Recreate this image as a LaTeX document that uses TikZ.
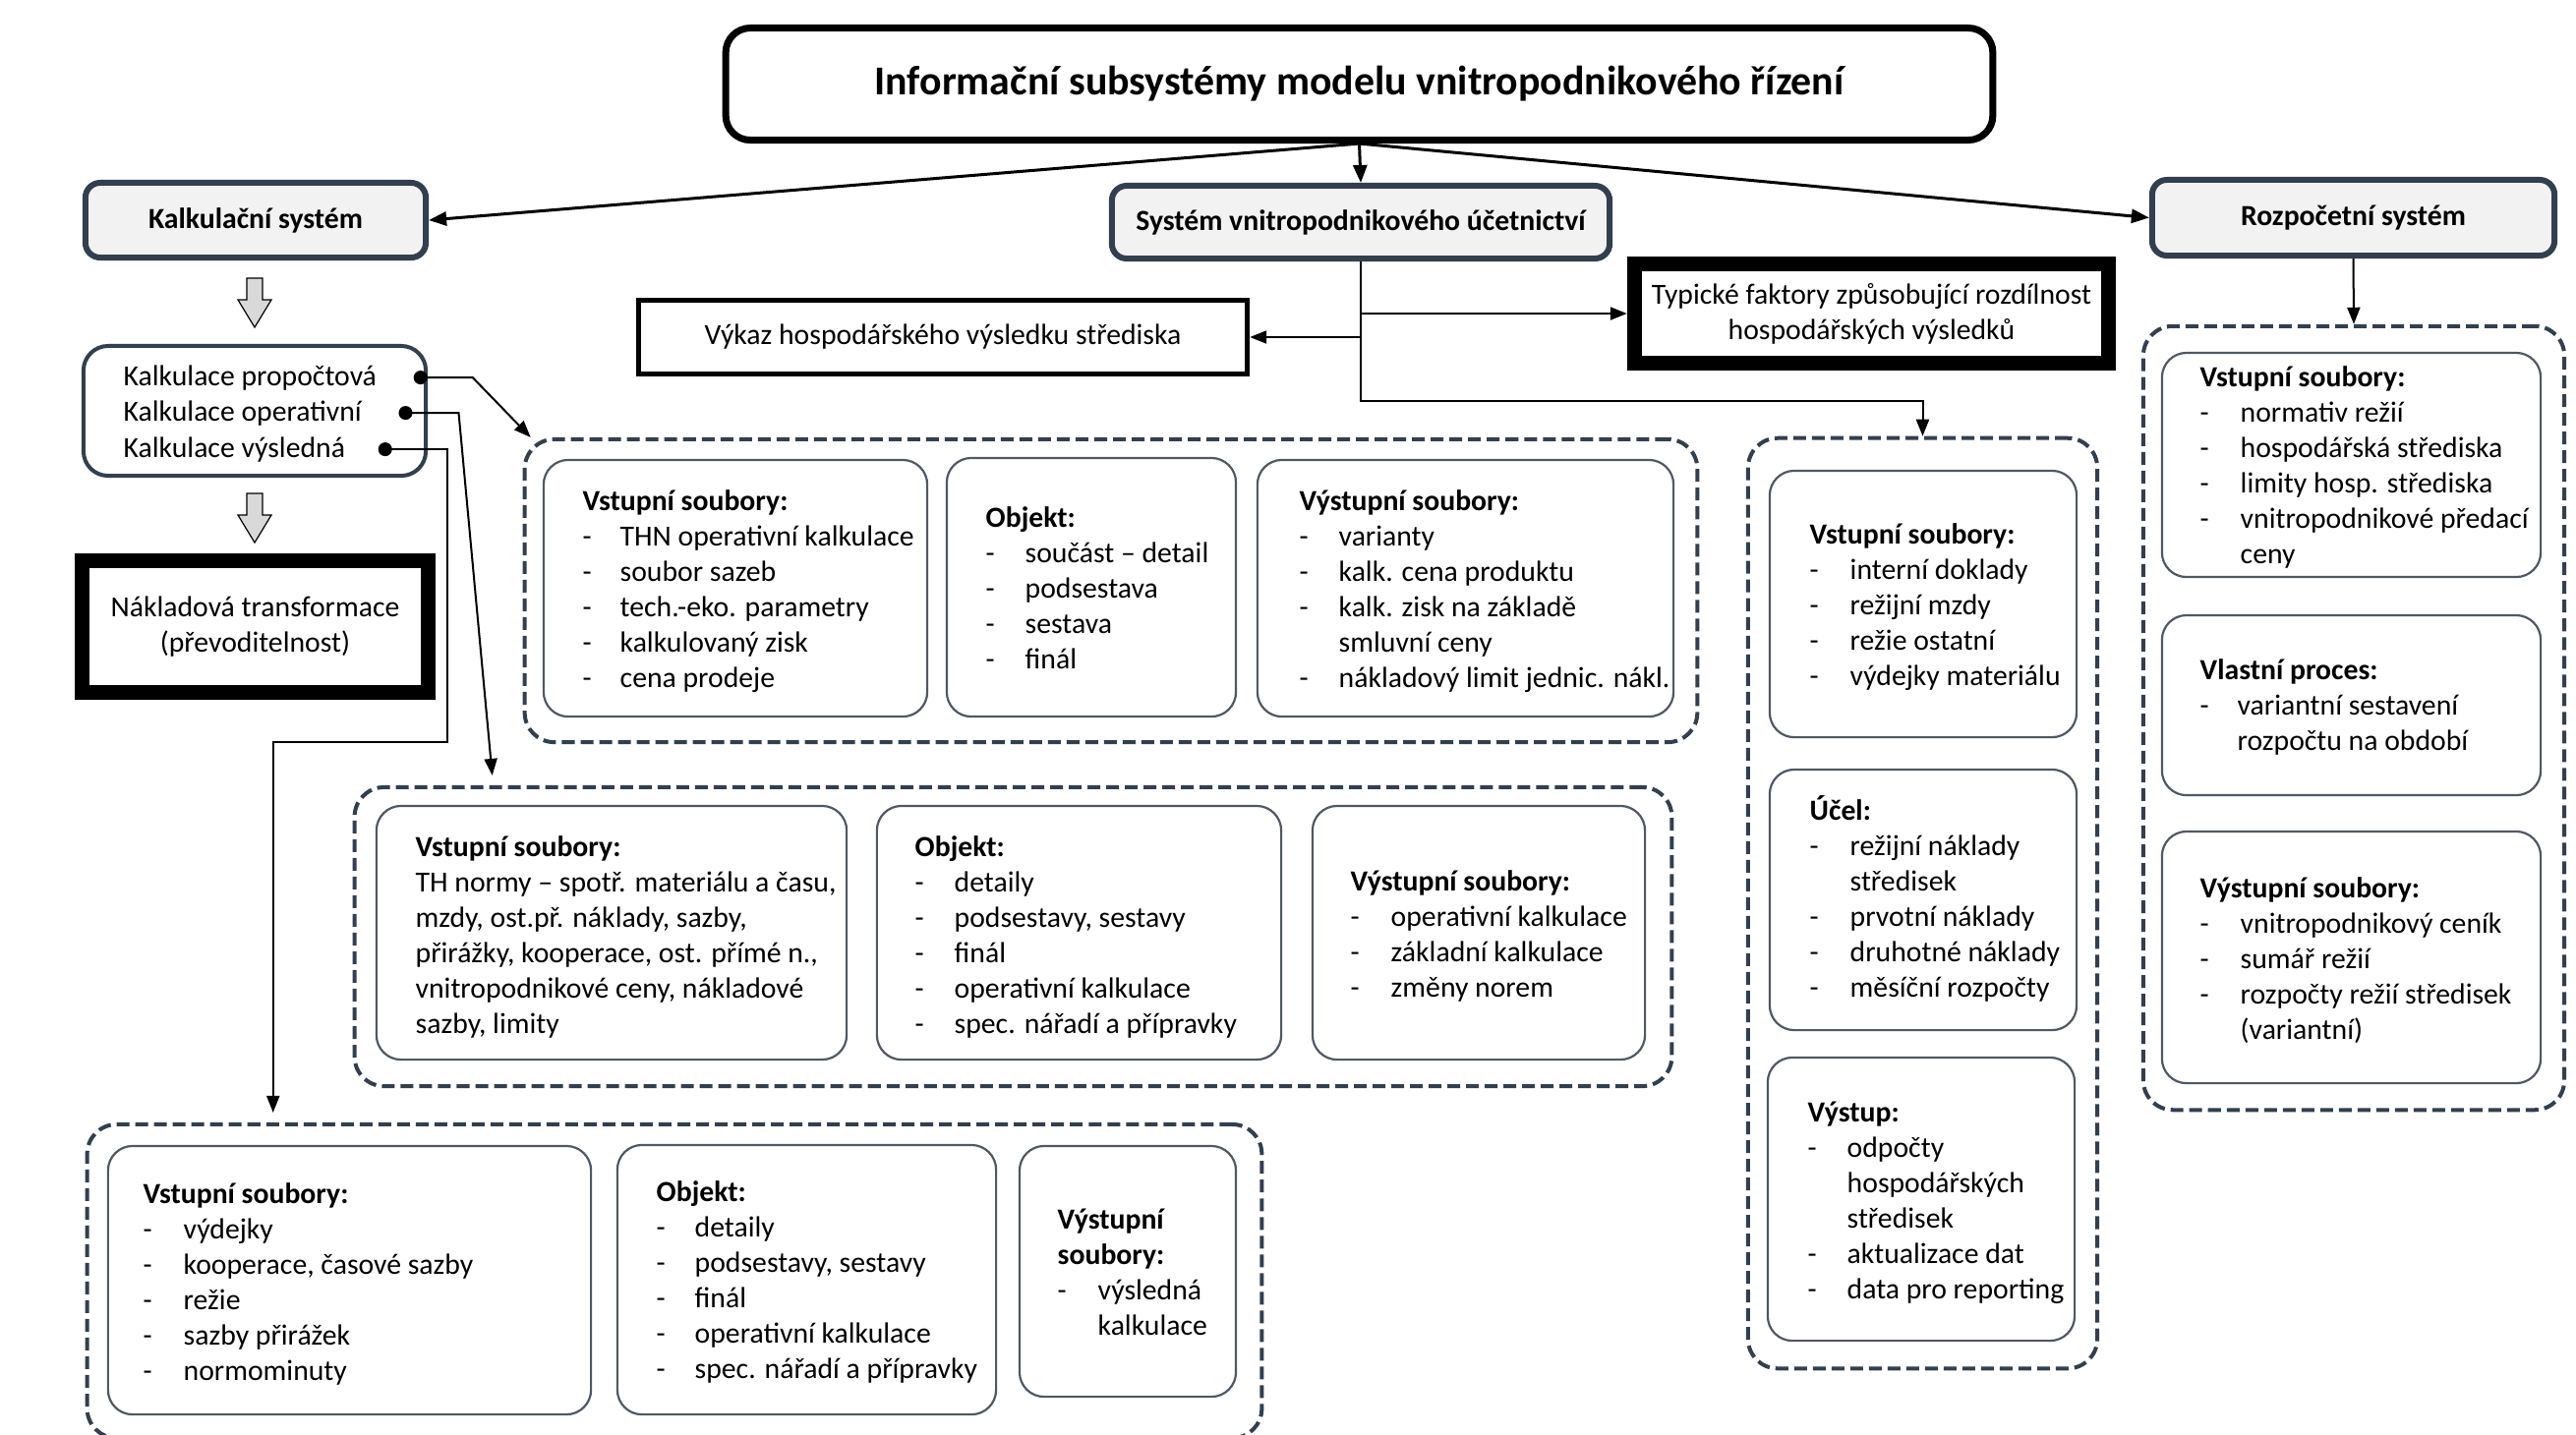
\documentclass[tikz,border=0pt]{standalone}
\usepackage{fontspec}
\setmainfont{Carlito}
\usetikzlibrary{arrows.meta}
\definecolor{slate}{RGB}{50,63,79}
\definecolor{hdrfill}{RGB}{242,242,242}
\definecolor{innerc}{RGB}{80,88,100}
\definecolor{blockfill}{RGB}{217,217,217}
\newcommand\bodyfont{\fontsize{8.45}{10.24}\selectfont}
\newcommand\hh[1]{\multicolumn{2}{@{}l@{}}{\textbf{#1}}}
\newcommand\blockarr[2]{\draw[fill=blockfill, line width=0.012cm] (#1-8,#2) -- (#1+8,#2) -- (#1+8,#2+22) -- (#1+17,#2+22) -- (#1,#2+50) -- (#1-17,#2+22) -- (#1-8,#2+22) -- cycle;}
\tikzset{
  ttl/.style={draw=black, line width=0.07cm, rounded corners=0.25cm, inner sep=0, font=\fontsize{11.9}{14}\selectfont\bfseries},
  hdr/.style={draw=slate, fill=hdrfill, line width=0.06cm, rounded corners=0.15cm, inner sep=0, font=\bodyfont\bfseries},
  kbox/.style={draw=slate, line width=0.04cm, rounded corners=0.25cm, inner sep=0},
  sqbox/.style={draw=black, inner sep=0, font=\bodyfont, align=center},
  dbox/.style={draw=slate, line width=0.04cm, dash pattern=on 0.13cm off 0.06cm, rounded corners=0.3cm, inner sep=0},
  ibox/.style={draw=innerc, line width=0.022cm, rounded corners=0.25cm, inner sep=0},
  txt/.style={anchor=base west, inner sep=0, font=\bodyfont},
  arr/.style={-{Triangle[length=0.17cm,width=0.13cm]}, line width=0.02cm},
  arrT/.style={-{Triangle[length=0.18cm,width=0.14cm]}, line width=0.03cm},
  dotarr/.style={{Circle[length=0.14cm]}-{Triangle[length=0.17cm,width=0.13cm]}, line width=0.02cm},
}
\begin{document}
\begin{tikzpicture}[x=0.01cm,y=-0.01cm]
\useasboundingbox (0,0) rectangle (2620,1459);

% top level
\node[ttl, minimum width=12.88cm, minimum height=1.14cm] (title) at (1382.5,85.5) {Informační subsystémy modelu vnitropodnikového řízení};
\node[hdr, minimum width=3.46cm, minimum height=0.76cm] (kalk) at (260,224) {Kalkulační systém};
\node[hdr, minimum width=5.06cm, minimum height=0.74cm] (sys) at (1384,226) {Systém vnitropodnikového účetnictví};
\node[hdr, minimum width=4.09cm, minimum height=0.77cm] (rozp) at (2393.5,221.5) {Rozpočetní systém};

% left column
\node[kbox, minimum width=3.48cm, minimum height=1.32cm] (kk) at (259,418) {};
\node[txt] (k1) at (125,392) {Kalkulace propočtová};
\node[txt] (k2) at (125,428) {Kalkulace operativní};
\node[txt] (k3) at (125,465) {Kalkulace výsledná};
\node[sqbox, line width=0.15cm, minimum width=3.52cm, minimum height=1.34cm] (nak) at (259.5,637.5) {Nákladová transformace\\(převoditelnost)};
\blockarr{259}{283}
\blockarr{259}{502}

% middle boxes
\node[sqbox, line width=0.05cm, minimum width=6.19cm, minimum height=0.75cm] (vyk) at (959,343) {Výkaz hospodářského výsledku střediska};
\node[sqbox, line width=0.15cm, minimum width=4.82cm, minimum height=1.01cm] (typ) at (1903.5,319) {Typické faktory způsobující rozdílnost\\hospodářských výsledků};

% dashed group 1
\node[dbox, minimum width=11.92cm, minimum height=3.08cm] (d1) at (1130,601) {};
\node[ibox, minimum width=3.90cm, minimum height=2.61cm] (d1a) at (748,598.5) {};
\node[ibox, minimum width=2.94cm, minimum height=2.63cm] (d1b) at (1110,597.5) {};
\node[ibox, minimum width=4.23cm, minimum height=2.61cm] (d1c) at (1490.5,598.5) {};
\node[txt] (t1a) at (592,519) {\begin{tabular}[t]{@{}p{0.38cm}@{}l@{}}\hh{Vstupní soubory:}\\ -&THN operativní kalkulace\\ -&soubor sazeb\\ -&tech.-eko. parametry\\ -&kalkulovaný zisk\\ -&cena prodeje\end{tabular}};
\node[txt] (t1b) at (1002,536) {\begin{tabular}[t]{@{}p{0.40cm}@{}l@{}}\hh{Objekt:}\\ -&součást – detail\\ -&podsestava\\ -&sestava\\ -&finál\end{tabular}};
\node[txt] (t1c) at (1321,519) {\begin{tabular}[t]{@{}p{0.40cm}@{}l@{}}\hh{Výstupní soubory:}\\ -&varianty\\ -&kalk. cena produktu\\ -&kalk. zisk na základě\\ &smluvní ceny\\ -&nákladový limit jednic. nákl.\end{tabular}};

% dashed group 2
\node[dbox, minimum width=13.39cm, minimum height=3.04cm] (d2) at (1030.5,953) {};
\node[ibox, minimum width=4.78cm, minimum height=2.58cm] (d2a) at (622,949) {};
\node[ibox, minimum width=4.11cm, minimum height=2.58cm] (d2b) at (1097.5,949) {};
\node[ibox, minimum width=3.38cm, minimum height=2.58cm] (d2c) at (1504,949) {};
\node[txt] (t2a) at (422,871) {\begin{tabular}[t]{@{}l@{}}\textbf{Vstupní soubory:}\\ TH normy – spotř. materiálu a času,\\ mzdy, ost.př. náklady, sazby,\\ přirážky, kooperace, ost. přímé n.,\\ vnitropodnikové ceny, nákladové\\ sazby, limity\end{tabular}};
\node[txt] (t2b) at (930,871) {\begin{tabular}[t]{@{}p{0.40cm}@{}l@{}}\hh{Objekt:}\\ -&detaily\\ -&podsestavy, sestavy\\ -&finál\\ -&operativní kalkulace\\ -&spec. nářadí a přípravky\end{tabular}};
\node[txt] (t2c) at (1373,906) {\begin{tabular}[t]{@{}p{0.41cm}@{}l@{}}\hh{Výstupní soubory:}\\ -&operativní kalkulace\\ -&základní kalkulace\\ -&změny norem\end{tabular}};

% dashed group 3
\node[dbox, minimum width=11.94cm, minimum height=3.19cm] (d3) at (686,1303.5) {};
\node[ibox, minimum width=4.91cm, minimum height=2.73cm] (d3a) at (355.5,1302.5) {};
\node[ibox, minimum width=3.85cm, minimum height=2.74cm] (d3b) at (820.5,1302) {};
\node[ibox, minimum width=2.20cm, minimum height=2.55cm] (d3c) at (1147,1293.5) {};
\node[txt] (t3a) at (145,1224) {\begin{tabular}[t]{@{}p{0.41cm}@{}l@{}}\hh{Vstupní soubory:}\\ -&výdejky\\ -&kooperace, časové sazby\\ -&režie\\ -&sazby přirážek\\ -&normominuty\end{tabular}};
\node[txt] (t3b) at (667,1222) {\begin{tabular}[t]{@{}p{0.39cm}@{}l@{}}\hh{Objekt:}\\ -&detaily\\ -&podsestavy, sestavy\\ -&finál\\ -&operativní kalkulace\\ -&spec. nářadí a přípravky\end{tabular}};
\node[txt] (t3c) at (1075,1250) {\begin{tabular}[t]{@{}p{0.41cm}@{}l@{}}\hh{Výstupní}\\ \hh{soubory:}\\ -&výsledná\\ &kalkulace\end{tabular}};

% dashed group 4
\node[dbox, minimum width=3.55cm, minimum height=9.46cm] (d4) at (1955.5,919) {};
\node[ibox, minimum width=3.12cm, minimum height=2.71cm] (d4a) at (1956,614.5) {};
\node[ibox, minimum width=3.12cm, minimum height=2.65cm] (d4b) at (1956,915.5) {};
\node[ibox, minimum width=3.12cm, minimum height=2.88cm] (d4c) at (1954,1220) {};
\node[txt] (t4a) at (1840,553) {\begin{tabular}[t]{@{}p{0.41cm}@{}l@{}}\hh{Vstupní soubory:}\\ -&interní doklady\\ -&režijní mzdy\\ -&režie ostatní\\ -&výdejky materiálu\end{tabular}};
\node[txt] (t4b) at (1840,834) {\begin{tabular}[t]{@{}p{0.41cm}@{}l@{}}\hh{Účel:}\\ -&režijní náklady\\ &středisek\\ -&prvotní náklady\\ -&druhotné náklady\\ -&měsíční rozpočty\end{tabular}};
\node[txt] (t4c) at (1838,1141) {\begin{tabular}[t]{@{}p{0.40cm}@{}l@{}}\hh{Výstup:}\\ -&odpočty\\ &hospodářských\\ &středisek\\ -&aktualizace dat\\ -&data pro reporting\end{tabular}};

% dashed group 5
\node[dbox, minimum width=4.28cm, minimum height=7.97cm] (d5) at (2394,730.5) {};
\node[ibox, minimum width=3.85cm, minimum height=2.28cm] (d5a) at (2391.5,473) {};
\node[ibox, minimum width=3.85cm, minimum height=1.83cm] (d5b) at (2391.5,717.5) {};
\node[ibox, minimum width=3.85cm, minimum height=2.56cm] (d5c) at (2391.5,974) {};
\node[txt] (t5a) at (2237,393) {\begin{tabular}[t]{@{}p{0.41cm}@{}l@{}}\hh{Vstupní soubory:}\\ -&normativ režií\\ -&hospodářská střediska\\ -&limity hosp. střediska\\ -&vnitropodnikové předací\\ &ceny\end{tabular}};
\node[txt] (t5b) at (2237,691) {\begin{tabular}[t]{@{}p{0.38cm}@{}l@{}}\hh{Vlastní proces:}\\ -&variantní sestavení\\ &rozpočtu na období\end{tabular}};
\node[txt] (t5c) at (2237,913) {\begin{tabular}[t]{@{}p{0.41cm}@{}l@{}}\hh{Výstupní soubory:}\\ -&vnitropodnikový ceník\\ -&sumář režií\\ -&rozpočty režií středisek\\ &(variantní)\end{tabular}};

% connectors
\draw[arrT] (title.south) -- (kalk.east);
\draw[arrT] (title.south) -- (sys.north);
\draw[arrT] (title.south) -- (rozp.west);
\coordinate (j1) at (1384,408);
\draw[arr] (sys.south) -- (j1) -| (d4.north);
\draw[arr] (sys.south |- typ.west) -- (typ.west);
\draw[arr] (sys.south |- vyk.east) -- (vyk.east);
\draw[arr] (rozp.south) -- (d5.north);
\draw[dotarr] ([xshift=0.37cm]k1.east) -- ++(0.6cm,0) -- ([xshift=0.08cm]d1.north west);
\draw[dotarr] ([xshift=0.37cm]k2.east) -- ++(0.61cm,0) -- ([xshift=1.42cm,yshift=0.1cm]d2.north west);
\coordinate (j3) at (455,755);
\draw[dotarr] ([xshift=0.33cm]k3.east) -| (j3) -| ([xshift=1.91cm,yshift=0.1cm]d3.north west);
\end{tikzpicture}
\end{document}
